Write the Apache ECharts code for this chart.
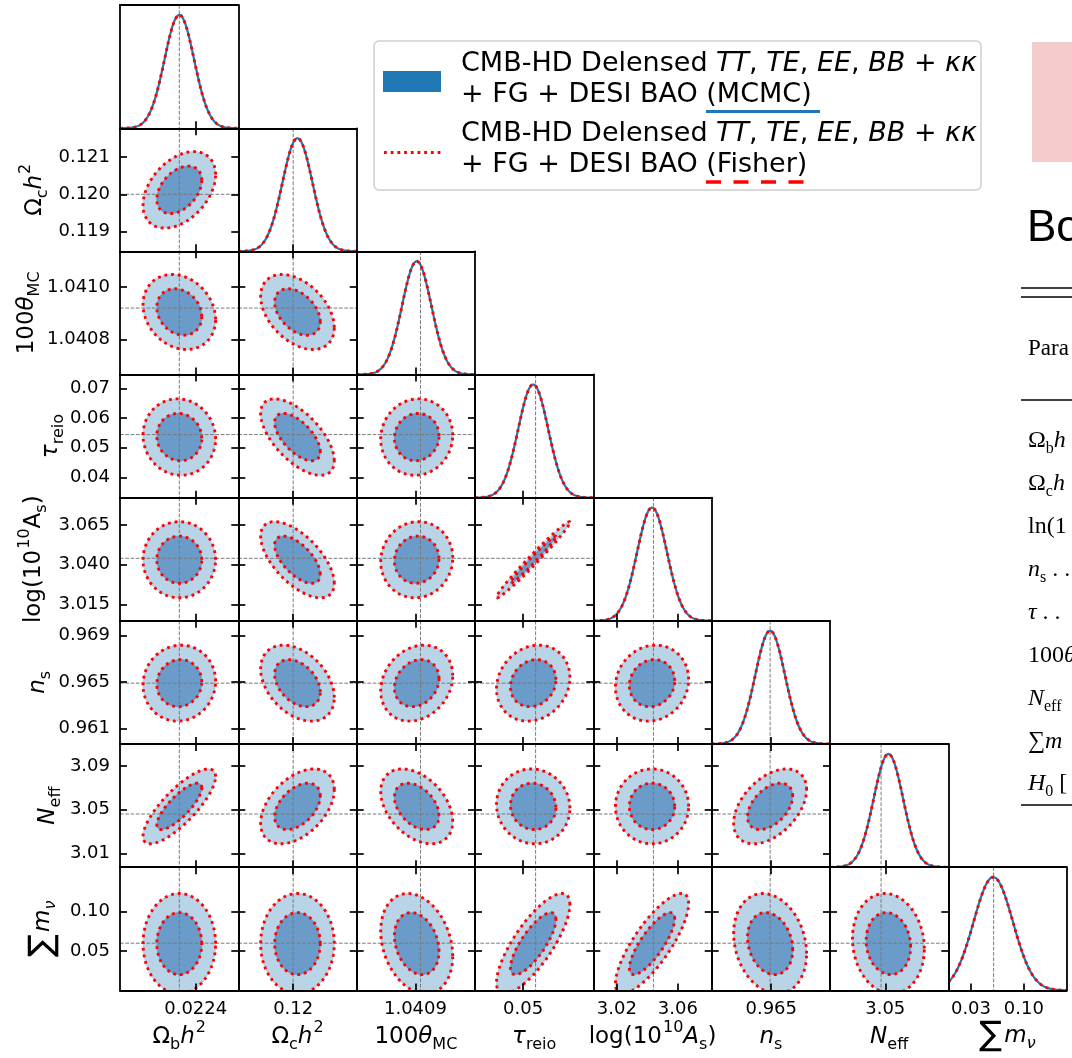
<!DOCTYPE html>
<html>
<head>
<meta charset="utf-8">
<script src="https://cdn.jsdelivr.net/npm/echarts@6/dist/echarts.min.js"></script>
<style>
  html, body { margin: 0; padding: 0; background: #ffffff; }
  #chart { width: 1072px; height: 1058px; }
</style>
</head>
<body>
<div id="chart"></div>
<script>
// Cosmological parameters, in plotting order
const PARAM_KEYS = ['omegabh2', 'omegach2', 'theta_MC', 'tau_reio', 'logA', 'n_s', 'N_eff', 'mnu'];

// Axis ranges shared by each parameter's column (x) and row (y)
const AXIS_MIN = [0.0222615, 0.118468, 1.040665, 0.03313, 3.0046, 0.959644, 2.99727, 0.0];
const AXIS_MAX = [0.0224779, 0.121774, 1.041138, 0.07465, 3.0822, 0.970287, 3.11015, 0.1566];

// Tick marks and labels
const X_TICKS = [[0.0224], [0.12], [1.0409], [0.05], [3.02, 3.06], [0.965], [3.05], [0.03, 0.10]];
const X_TICK_LABELS = [['0.0224'], ['0.12'], ['1.0409'], ['0.05'], ['3.02', '3.06'], ['0.965'], ['3.05'], ['0.03', '0.10']];
const Y_TICKS = [[], [0.119, 0.120, 0.121], [1.0408, 1.0410], [0.04, 0.05, 0.06, 0.07],
  [3.015, 3.040, 3.065], [0.961, 0.965, 0.969], [3.01, 3.05, 3.09], [0.05, 0.10]];
const Y_TICK_LABELS = [[], ['0.119', '0.120', '0.121'], ['1.0408', '1.0410'], ['0.04', '0.05', '0.06', '0.07'],
  ['3.015', '3.040', '3.065'], ['0.961', '0.965', '0.969'], ['3.01', '3.05', '3.09'], ['0.05', '0.10']];

// Fiducial cosmology (grey dashed lines)
const FIDUCIAL = [0.02237, 0.1200, 1.04092, 0.0544, 3.044, 0.9649, 3.046, 0.06];

// Posterior means and 1-sigma errors
const MEAN = [0.02237, 0.12012, 1.040905, 0.05356, 3.0431, 0.9649, 3.0530, 0.0595];
const SIGMA = [0.0000271, 0.00042, 0.0000588, 0.00526, 0.0098, 0.00134, 0.0140, 0.0260];

// Correlation coefficients, lower triangle: CORR[row][col]
const CORR = [
  [],
  [0.40],
  [-0.20, -0.42],
  [-0.05, -0.62, 0.05],
  [0.00, -0.62, 0.05, 0.985],
  [0.05, -0.38, 0.20, 0.15, 0.10],
  [0.80, 0.45, -0.40, -0.05, 0.00, 0.45],
  [0.00, 0.00, -0.25, 0.78, 0.80, -0.20, -0.10]
];

// Panel edges in pixels
const COL_EDGES = [120, 238.3, 356.7, 475, 593.3, 711.7, 830, 948.3, 1066.6];
const ROW_EDGES = [5, 128.3, 251.3, 374.5, 497.7, 620.8, 744, 867.2, 990.4];

const N = PARAM_KEYS.length;
const PEAK_HEADROOM = 1.088;
const K68 = Math.sqrt(2.2958);
const K95 = Math.sqrt(5.9915);
const N_SEG = 200;

const COLOR_68 = '#6a9bc9';
const COLOR_95 = '#b9d3e7';
const COLOR_LINE = '#1f77b4';
const COLOR_FISHER = '#ff0000';
const FISHER_DASH = [2.8, 3.9];
const FISHER_WIDTH = 2.9;
const FID_STYLE = { stroke: '#7a7a7a', lineWidth: 1, lineDash: [3.7, 1.6], fill: 'none' };

const FRAME = { show: true, onZero: false, lineStyle: { color: '#000', width: 1.8 } };

function tickCfg(values) {
  if (!values.length) return { show: false };
  return { show: true, inside: true, length: 7, customValues: values, lineStyle: { color: '#000', width: 1.7 } };
}

function labelCfg(show, values, labels, margin) {
  if (!show || !values.length) return { show: false };
  return {
    show: true, customValues: values, margin: margin, color: '#000',
    fontSize: 18, fontFamily: 'DejaVu Sans',
    formatter: function (v) {
      const i = values.findIndex(t => Math.abs(t - v) < 1e-9 * Math.max(1, Math.abs(v)));
      return i >= 0 ? labels[i] : '';
    }
  };
}

function ellipse(api, r, c, k) {
  const rho = CORR[r][c];
  const s = Math.sqrt(1 - rho * rho);
  const pts = [];
  for (let i = 0; i <= N_SEG; i++) {
    const t = 2 * Math.PI * i / N_SEG;
    const x = MEAN[c] + k * SIGMA[c] * Math.cos(t);
    const y = MEAN[r] + k * SIGMA[r] * (rho * Math.cos(t) + s * Math.sin(t));
    pts.push(api.coord([x, y]));
  }
  return pts;
}

function fidLines(api, cs, r, c) {
  const out = [];
  const px = api.coord([FIDUCIAL[c], r === c ? 0 : FIDUCIAL[r]]);
  out.push({ type: 'line', shape: { x1: px[0], y1: cs.y, x2: px[0], y2: cs.y + cs.height }, style: FID_STYLE });
  if (r !== c) {
    out.push({ type: 'line', shape: { x1: cs.x, y1: px[1], x2: cs.x + cs.width, y2: px[1] }, style: FID_STYLE });
  }
  return out;
}

function dotted(points) {
  return { type: 'polyline', shape: { points: points },
    style: { stroke: COLOR_FISHER, lineWidth: FISHER_WIDTH, lineDash: FISHER_DASH, fill: 'none' } };
}

function render2D(r, c) {
  return function (params, api) {
    const cs = params.coordSys;
    const outer = ellipse(api, r, c, K95);
    const inner = ellipse(api, r, c, K68);
    const children = [
      { type: 'polygon', shape: { points: outer }, style: { fill: COLOR_95, stroke: '#a9c7df', lineWidth: 0.8 } },
      { type: 'polygon', shape: { points: inner }, style: { fill: COLOR_68, stroke: '#5f92c2', lineWidth: 0.8 } }
    ].concat(fidLines(api, cs, r, c)).concat([dotted(outer), dotted(inner)]);
    return { type: 'group', children: children };
  };
}

function render1D(c) {
  return function (params, api) {
    const cs = params.coordSys;
    const pts = [];
    for (let i = 0; i <= N_SEG; i++) {
      const x = AXIS_MIN[c] + (AXIS_MAX[c] - AXIS_MIN[c]) * i / N_SEG;
      const z = (x - MEAN[c]) / SIGMA[c];
      pts.push(api.coord([x, Math.exp(-0.5 * z * z)]));
    }
    const children = fidLines(api, cs, c, c).concat([
      { type: 'polyline', shape: { points: pts }, style: { stroke: COLOR_LINE, lineWidth: 2.2, fill: 'none' } },
      dotted(pts)
    ]);
    return { type: 'group', children: children };
  };
}

const grids = [], xAxes = [], yAxes = [], series = [];
for (let r = 0; r < N; r++) {
  for (let c = 0; c <= r; c++) {
    const g = grids.length;
    const diag = r === c;
    grids.push({
      left: COL_EDGES[c], top: ROW_EDGES[r],
      width: COL_EDGES[c + 1] - COL_EDGES[c], height: ROW_EDGES[r + 1] - ROW_EDGES[r]
    });
    const xb = xAxes.length;
    xAxes.push({
      type: 'value', gridIndex: g, position: 'bottom', min: AXIS_MIN[c], max: AXIS_MAX[c], z: 10,
      axisLine: FRAME, axisTick: tickCfg(X_TICKS[c]),
      axisLabel: labelCfg(r === N - 1, X_TICKS[c], X_TICK_LABELS[c], 10),
      splitLine: { show: false }
    });
    xAxes.push({
      type: 'value', gridIndex: g, position: 'top', min: AXIS_MIN[c], max: AXIS_MAX[c], z: 10,
      axisLine: FRAME, axisTick: diag ? { show: false } : tickCfg(X_TICKS[c]),
      axisLabel: { show: false }, splitLine: { show: false }
    });
    const yl = yAxes.length;
    if (diag) {
      yAxes.push({ type: 'value', gridIndex: g, position: 'left', min: 0, max: PEAK_HEADROOM, z: 10,
        axisLine: FRAME, axisTick: { show: false }, axisLabel: { show: false }, splitLine: { show: false } });
      yAxes.push({ type: 'value', gridIndex: g, position: 'right', min: 0, max: PEAK_HEADROOM, z: 10,
        axisLine: FRAME, axisTick: { show: false }, axisLabel: { show: false }, splitLine: { show: false } });
    } else {
      yAxes.push({ type: 'value', gridIndex: g, position: 'left', min: AXIS_MIN[r], max: AXIS_MAX[r], z: 10,
        axisLine: FRAME, axisTick: tickCfg(Y_TICKS[r]),
        axisLabel: labelCfg(c === 0, Y_TICKS[r], Y_TICK_LABELS[r], 10), splitLine: { show: false } });
      yAxes.push({ type: 'value', gridIndex: g, position: 'right', min: AXIS_MIN[r], max: AXIS_MAX[r], z: 10,
        axisLine: FRAME, axisTick: tickCfg(Y_TICKS[r]), axisLabel: { show: false }, splitLine: { show: false } });
    }
    series.push({
      type: 'custom', xAxisIndex: xb, yAxisIndex: yl, clip: true, silent: true,
      data: [[MEAN[c], diag ? 0 : MEAN[r]]],
      renderItem: diag ? render1D(c) : render2D(r, c)
    });
  }
}

// Axis titles with sub/superscripts
const TITLE_SIZE = 23;
const P = 6;
const TITLE_RICH = {
  m: { fontSize: TITLE_SIZE, fontFamily: 'DejaVu Sans', verticalAlign: 'top', padding: [P, 0, 0, 0] },
  i: { fontSize: TITLE_SIZE, fontFamily: 'DejaVu Sans', fontStyle: 'italic', verticalAlign: 'top', padding: [P, 0, 0, 0] },
  sub: { fontSize: 16, fontFamily: 'DejaVu Sans', verticalAlign: 'top', padding: [P + 11, 0, 0, 0] },
  sup: { fontSize: 16, fontFamily: 'DejaVu Sans', verticalAlign: 'top', padding: [0, 0, 0, 1] },
  big: { fontSize: 34, fontFamily: 'DejaVu Sans', verticalAlign: 'top', padding: [0, 2, 0, 0] },
  subn: { fontSize: 16, fontFamily: 'DejaVu Sans', fontStyle: 'italic', verticalAlign: 'top', padding: [P + 11, 0, 0, 0] }
};
const X_TITLES = [
  '{m|Ω}{sub|b}{i|h}{sup|2}',
  '{m|Ω}{sub|c}{i|h}{sup|2}',
  '{m|100}{i|θ}{sub|MC}',
  '{i|τ}{sub|reio}',
  '{m|log(10}{sup|10}{i|A}{sub|s}{m|)}',
  '{i|n}{sub|s}',
  '{i|N}{sub|eff}',
  '{big|∑}{i|m}{subn|ν}'
];
const Y_TITLES = [
  '',
  '{m|Ω}{sub|c}{i|h}{sup|2}',
  '{m|100}{i|θ}{sub|MC}',
  '{i|τ}{sub|reio}',
  '{m|log(10}{sup|10}{m|A}{sub|s}{m|)}',
  '{i|n}{sub|s}',
  '{i|N}{sub|eff}',
  '{big|∑}{i|m}{subn|ν}'
];
const Y_TITLE_X = [0, 34, 26, 50, 33, 37, 47, 43];

const graphics = [];
for (let c = 0; c < N; c++) {
  graphics.push({
    type: 'text', x: (COL_EDGES[c] + COL_EDGES[c + 1]) / 2, y: 1036,
    style: { text: X_TITLES[c], rich: TITLE_RICH, fill: '#000', align: 'center', verticalAlign: 'middle' }
  });
}
for (let r = 1; r < N; r++) {
  graphics.push({
    type: 'text', x: Y_TITLE_X[r], y: (ROW_EDGES[r] + ROW_EDGES[r + 1]) / 2, rotation: Math.PI / 2,
    style: { text: Y_TITLES[r], rich: TITLE_RICH, fill: '#000', align: 'center', verticalAlign: 'middle' }
  });
}

// Legend
const LEG_FONT = { fontSize: 27, fontFamily: 'DejaVu Sans', fill: '#000', verticalAlign: 'middle', align: 'left' };
const LEG_RICH = { i: { fontSize: 27, fontFamily: 'DejaVu Sans', fontStyle: 'italic' } };
const LEGEND_LINES = [
  'CMB-HD Delensed {i|TT}, {i|TE}, {i|EE}, {i|BB} + {i|κκ}',
  '+ FG + DESI BAO (MCMC)',
  'CMB-HD Delensed {i|TT}, {i|TE}, {i|EE}, {i|BB} + {i|κκ}',
  '+ FG + DESI BAO (Fisher)'
];
const LEGEND_Y = [64, 95, 134, 165];
graphics.push({ type: 'rect', shape: { x: 374, y: 41, width: 607, height: 149, r: 5 },
  style: { fill: '#ffffff', stroke: '#cfcfcf', lineWidth: 1.5 } });
graphics.push({ type: 'rect', shape: { x: 383, y: 71, width: 58, height: 21 }, style: { fill: COLOR_LINE } });
graphics.push({ type: 'line', shape: { x1: 384, y1: 152.5, x2: 441, y2: 152.5 },
  style: { stroke: COLOR_FISHER, lineWidth: FISHER_WIDTH, lineDash: FISHER_DASH } });
LEGEND_LINES.forEach((t, k) => {
  graphics.push({ type: 'text', x: 461, y: LEGEND_Y[k], style: Object.assign({ text: t, rich: LEG_RICH }, LEG_FONT) });
});
graphics.push({ type: 'line', shape: { x1: 706, y1: 111.5, x2: 820, y2: 111.5 }, style: { stroke: COLOR_LINE, lineWidth: 3 } });
graphics.push({ type: 'line', shape: { x1: 706, y1: 182, x2: 808, y2: 182 },
  style: { stroke: COLOR_FISHER, lineWidth: 3.5, lineDash: [15, 12.5] } });

// Neighbouring page content at the right edge
const SERIF = 'Liberation Serif';
const TABLE_RICH = {
  r: { fontSize: 24, fontFamily: SERIF },
  i: { fontSize: 24, fontFamily: SERIF, fontStyle: 'italic' },
  s: { fontSize: 16, fontFamily: SERIF, verticalAlign: 'top', padding: [15, 0, 0, 0] },
  is: { fontSize: 16, fontFamily: SERIF, fontStyle: 'italic', verticalAlign: 'top', padding: [15, 0, 0, 0] }
};
const TABLE_ROWS = [
  '{r|Ω}{s|b}{i|h}',
  '{r|Ω}{s|c}{i|h}',
  '{r|ln(1}',
  '{i|n}{s|s}{r| . .}',
  '{i|τ}{r| . .}',
  '{r|100}{i|θ}',
  '{i|N}{s|eff}',
  '{r|∑}{i|m}',
  '{i|H}{s|0}{r| [}'
];
const TABLE_Y = [441, 484, 527, 570, 613, 656, 699, 742, 784];
graphics.push({ type: 'rect', shape: { x: 1032, y: 42, width: 50, height: 120 }, style: { fill: '#f4cccc' } });
graphics.push({ type: 'text', x: 1027, y: 229, style: { text: 'Bo', fontSize: 44, fontFamily: 'Liberation Sans', fill: '#000', verticalAlign: 'middle' } });
[288, 297, 400].forEach(y => graphics.push({ type: 'line', shape: { x1: 1021, y1: y, x2: 1080, y2: y }, style: { stroke: '#000', lineWidth: 1.4 } }));
graphics.push({ type: 'text', x: 1028, y: 349, style: { text: 'Para', fontSize: 23, fontFamily: SERIF, fill: '#000', verticalAlign: 'middle' } });
TABLE_ROWS.forEach((t, k) => {
  graphics.push({ type: 'text', x: 1028, y: TABLE_Y[k], style: { text: t, rich: TABLE_RICH, fill: '#000', verticalAlign: 'middle' } });
});
graphics.push({ type: 'line', shape: { x1: 1021, y1: 805, x2: 1080, y2: 805 }, style: { stroke: '#000', lineWidth: 1.6 } });

const chart = echarts.init(document.getElementById('chart'), null, { renderer: 'canvas' });
chart.setOption({
  animation: false,
  backgroundColor: '#ffffff',
  grid: grids,
  xAxis: xAxes,
  yAxis: yAxes,
  series: series,
  graphic: graphics
});
</script>
</body>
</html>
